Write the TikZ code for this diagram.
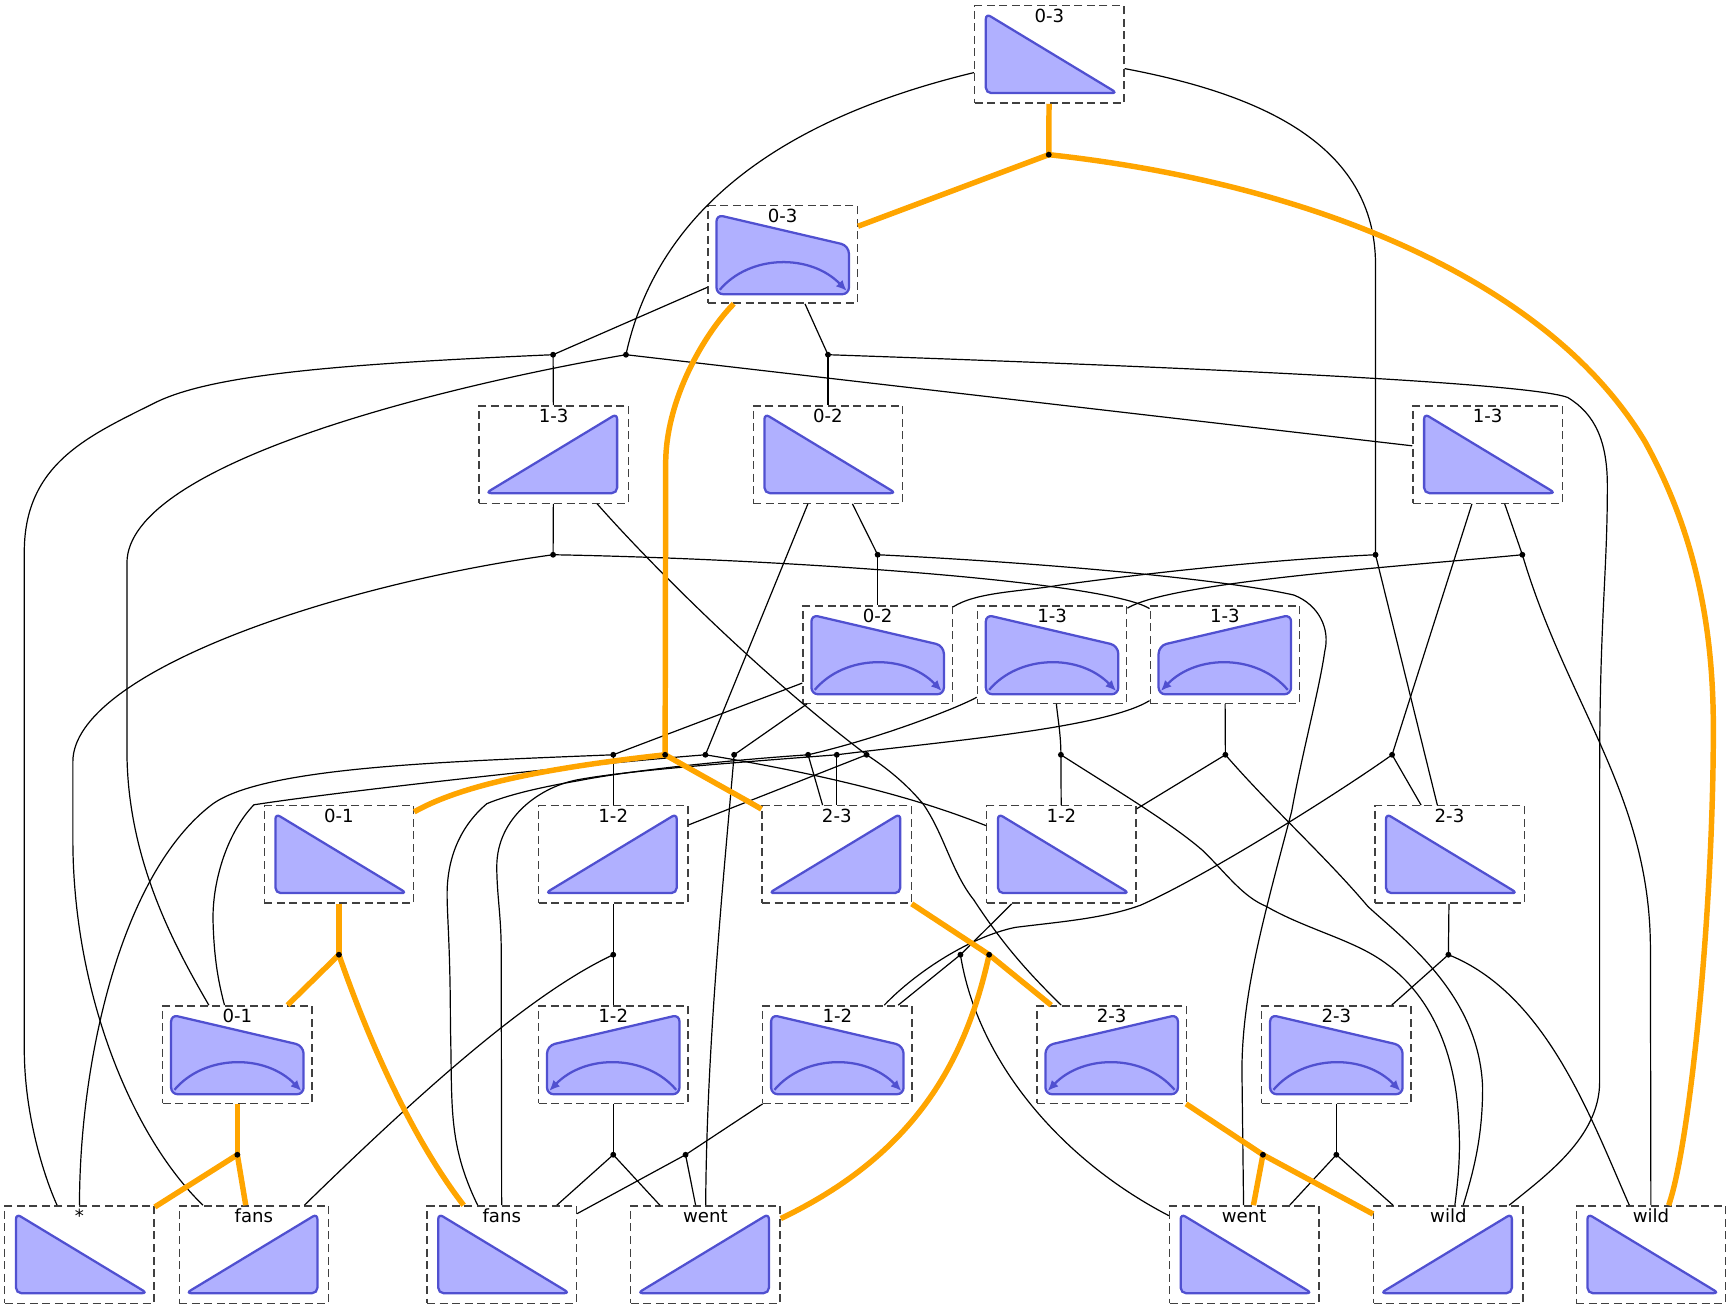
\documentclass[tikz,border=0pt]{standalone}
\usepackage{fontspec}
\setmainfont{DejaVu Sans}
\usetikzlibrary{positioning, arrows.meta}
\definecolor{trifill}{HTML}{B0B0FF}
\definecolor{triline}{HTML}{5050D0}
\definecolor{boxline}{HTML}{404040}
\definecolor{bestline}{HTML}{FFA500}
\tikzset{
	box/.style={
		draw=boxline,
		line width=1pt,
		dash pattern=on 6pt off 3.4pt,
		inner sep=0pt,
		minimum width=112pt,
		minimum height=73pt
	},
	boxlab/.style={
		inner sep=0pt,
		font=\fontsize{13.6}{15}\selectfont,
		text height=10pt
	},
	junction/.style={
		circle,
		fill=black,
		inner sep=0pt,
		minimum size=4.4pt
	},
	link/.style={black, line width=0.9pt},
	best/.style={bestline, line width=4.1pt},
	tri/.style={
		draw=triline,
		fill=trifill,
		line width=1.7pt,
		rounded corners=4pt
	},
	hook/.style={
		draw=triline,
		line width=1.7pt,
		>={Latex[length=8pt,width=7pt]}
	},
	pics/triL/.style={code={
		\path[tri] (-57.5,-37) -- (-57.5,35) -- (61.5,35) -- cycle;
	}},
	pics/triR/.style={code={
		\path[tri] (57.5,-37) -- (57.5,35) -- (-61.5,35) -- cycle;
	}},
	pics/arcR/.style={code={
		\path[tri] (-60,-36) [rounded corners=6pt] -- (60,-8) [rounded corners=5pt] -- (60,36) -- (-60,36) -- cycle;
		\draw[hook, ->] (-57,32) .. controls (-30,0) and (25,-1) .. (58,33);
	}},
	pics/arcL/.style={code={
		\path[tri] (60,-36) [rounded corners=6pt] -- (-60,-8) [rounded corners=5pt] -- (-60,36) -- (60,36) -- cycle;
		\draw[hook, ->] (57,32) .. controls (30,0) and (-25,-1) .. (-58,33);
	}}
}
\begin{document}
\begin{tikzpicture}[x=0.828pt, y=-0.828pt]
	\useasboundingbox (0,0) rectangle (1568,1185.7);

	% derivation boxes
	\foreach \n/\x/\y/\lab in {r0a/950.5/49.3/0-3, r2b/750/411.7/0-2, r2c/1347.5/411.7/1-3,
		r4a/307/774/0-1, r4d/961.5/774/1-2, r4e/1313/774/2-3,
		r6a/72/1136.4/*, r6c/454.5/1136.4/fans, r6e/1127/1136.4/went, r6g/1495.5/1136.4/wild} {
		\node[box] (\n) at (\x,\y) {};
		\node[boxlab, below=2.6pt of \n.north] (\n-lab) {\lab};
		\pic at (\x,\y) {triL};
	}
	\foreach \n/\x/\y/\lab in {r2a/501.5/411.7/1-3, r4b/555.5/774/1-2, r4c/758/774/2-3,
		r6b/230/1136.4/fans, r6d/639/1136.4/went, r6f/1312/1136.4/wild} {
		\node[box] (\n) at (\x,\y) {};
		\node[boxlab, below=2.6pt of \n.north] (\n-lab) {\lab};
		\pic at (\x,\y) {triR};
	}
	\foreach \n/\x/\y/\lab in {r1a/709/230.5/0-3, r3a/795/592.9/0-2, r3b/953/592.9/1-3,
		r5a/215/955.2/0-1, r5c/758.5/955.2/1-2, r5e/1210.5/955.2/2-3} {
		\node[box] (\n) at (\x,\y) {};
		\node[boxlab, below=2.6pt of \n.north] (\n-lab) {\lab};
		\pic at (\x,\y) {arcR};
	}
	\foreach \n/\x/\y/\lab in {r3c/1109.5/592.9/1-3, r5b/555.5/955.2/1-2, r5d/1007/955.2/2-3} {
		\node[box] (\n) at (\x,\y) {};
		\node[boxlab, below=2.6pt of \n.north] (\n-lab) {\lab};
		\pic at (\x,\y) {arcL};
	}

	% junction points
	\coordinate (j0) at (950,140.1);
	\foreach \n/\x in {1/501, 2/567, 3/750} {\coordinate (j\n) at (\x,321.3);}
	\foreach \n/\x in {4/501, 5/795, 6/1246, 7/1379} {\coordinate (j\n) at (\x,502.5);}
	\foreach \n/\x in {8/555.5, 9/602.5, 10/639, 11/665, 12/732, 13/758, 14/785, 15/961, 16/1110, 17/1261} {\coordinate (j\n) at (\x,683.7);}
	\foreach \n/\x in {18/307, 19/555.5, 20/870, 21/896, 22/1312} {\coordinate (j\n) at (\x,864.8);}
	\foreach \n/\x in {23/215, 24/555.5, 25/621, 26/1144, 27/1210.5} {\coordinate (j\n) at (\x,1046);}

	% plain connectors
	\begin{scope}[link]
		\foreach \from/\to in {j2/r2c, r1a/j1, r1a/j3, j1/r2a, j3/r2b, r2a/j4, r2b/j10, r2b/j5, j5/r3a,
			r2c/j17, r2c/j7, j6/r4e, r3a/j8, r3a/j11, r3c/j16, j8/r4b, j12/r4c, j13/r4c, j14/r4b, j15/r4d, j16/r4d, j17/r4e,
			r4b/j19, j19/r5b, r4d/j20, j20/r5c, r4e/j22, j22/r5e, r5b/j24, r5c/j25, r5e/j27,
			j24/r6c, j24/r6d, j25/r6c, j25/r6d, j27/r6e, j27/r6f} {
			\draw (\from) -- (\to);
		}
		\draw (r0a) .. controls (740,100) and (600,170) .. (j2);
		\draw (r0a) .. controls (1140,85) and (1246,130) .. (1246,240) -- (j6);
		\draw (j1) .. controls (300,330) and (190,340) .. (140,365) .. controls (80,395) and (22,420) .. (22,500) -- (22,950) .. controls (22,1010) and (40,1066) .. (r6a);
		\draw (j2) .. controls (400,350) and (115,420) .. (115,510) -- (115,680) .. controls (115,780) and (160,860) .. (r5a);
		\draw (j3) .. controls (1000,330) and (1380,345) .. (1420,360) .. controls (1445,375) and (1456,400) .. (1456,440) .. controls (1456,520) and (1449,560) .. (1449,700) -- (1449,980) .. controls (1449,1030) and (1400,1065) .. (r6f);
		\draw (r2a) .. controls (590,512) and (690,612) .. (j14);
		\draw (j14) .. controls (810,700) and (825,715) .. (836,728) .. controls (855,755) and (862,790) .. (882,815) .. controls (905,850) and (925,875) .. (r5d);
		\draw (j4) .. controls (700,506) and (1000,526) .. (r3c);
		\draw (j4) .. controls (300,530) and (66,610) .. (66,690) -- (66,760) .. controls (66,900) and (120,1030) .. (r6b);
		\draw (j5) .. controls (950,510) and (1110,525) .. (1172,539) .. controls (1195,548) and (1205,570) .. (1200,590) .. controls (1195,625) and (1180,680) .. (1170,735) .. controls (1145,830) and (1125,900) .. (1125,970) -- (r6e);
		\draw (j7) .. controls (1270,513) and (1060,527) .. (r3b);
		\draw (j7) .. controls (1420,640) and (1495,720) .. (1495,860) -- (r6g);
		\draw (j6) .. controls (1150,507) and (1040,519) .. (960,530) .. controls (925,536) and (885,536) .. (r3a);
		\draw (r3b) .. controls (870,640) and (800,668) .. (j12);
		\draw (r3b) .. controls (958,650) and (961,665) .. (j15);
		\draw (r3c) .. controls (1000,660) and (850,672) .. (j13);
		\draw (j8) .. controls (400,690) and (240,695) .. (193,728) .. controls (110,790) and (72,960) .. (r6a);
		\draw (j10) .. controls (800,710) and (870,739) .. (r4d);
		\draw (j10) .. controls (520,693) and (300,718) .. (230,729) .. controls (205,755) and (192,800) .. (193,835) .. controls (194,870) and (198,890) .. (r5a);
		\draw (j11) .. controls (655,800) and (640,950) .. (r6d);
		\draw (j12) .. controls (640,690) and (560,700) .. (525,707) .. controls (490,713) and (460,720) .. (441,728) .. controls (415,750) and (405,780) .. (405,810) .. controls (405,830) and (408,860) .. (408,930) .. controls (410,1000) and (405,1035) .. (r6c);
		\draw (j13) .. controls (650,692) and (570,698) .. (525,706) .. controls (490,712) and (450,740) .. (450,785) .. controls (450,810) and (454,830) .. (454,860) -- (r6c);
		\draw (j15) .. controls (1010,715) and (1060,745) .. (1089,770) .. controls (1110,790) and (1125,812) .. (1147,821) .. controls (1180,840) and (1220,850) .. (1247,867) .. controls (1300,900) and (1318,960) .. (1321,1010) .. controls (1323,1040) and (1322,1060) .. (r6f);
		\draw (j16) .. controls (1150,730) and (1200,775) .. (1239,821) .. controls (1270,850) and (1340,900) .. (1343,985) .. controls (1343,1030) and (1335,1060) .. (r6f);
		\draw (j17) .. controls (1210,720) and (1090,795) .. (1033,820) .. controls (1000,832) and (960,835) .. (920,840) .. controls (880,848) and (830,880) .. (r5c);
		\draw (j19) .. controls (480,900) and (380,990) .. (r6b);
		\draw (j20) .. controls (885,960) and (960,1050) .. (r6e);
		\draw (j22) .. controls (1400,900) and (1440,1010) .. (r6g);
	\end{scope}

	% best derivation
	\begin{scope}[best]
		\foreach \from/\to in {r0a/j0, j0/r1a, r4a/j18, j18/r5a, r4c/j21, j21/r5d, r5a/j23, j23/r6a, j23/r6b, r5d/j26, j26/r6e, j26/r6f} {
			\draw (\from) -- (\to);
		}
		\draw (j0) .. controls (1180,165) and (1400,250) .. (1490,400) .. controls (1540,490) and (1552,580) .. (1552,660) .. controls (1552,830) and (1530,1040) .. (r6g);
		\draw (r1a) .. controls (640,300) and (603,360) .. (603,420) -- (j9);
		\draw (j9) .. controls (500,695) and (420,710) .. (r4a);
		\draw (j9) .. controls (640,705) and (680,727) .. (r4c);
		\draw (j18) .. controls (340,960) and (380,1040) .. (r6c);
		\draw (j21) .. controls (875,960) and (830,1045) .. (r6d);
	\end{scope}

	\foreach \n in {0,...,27} {
		\node[junction] (dot\n) at (j\n) {};
	}
\end{tikzpicture}
\end{document}
